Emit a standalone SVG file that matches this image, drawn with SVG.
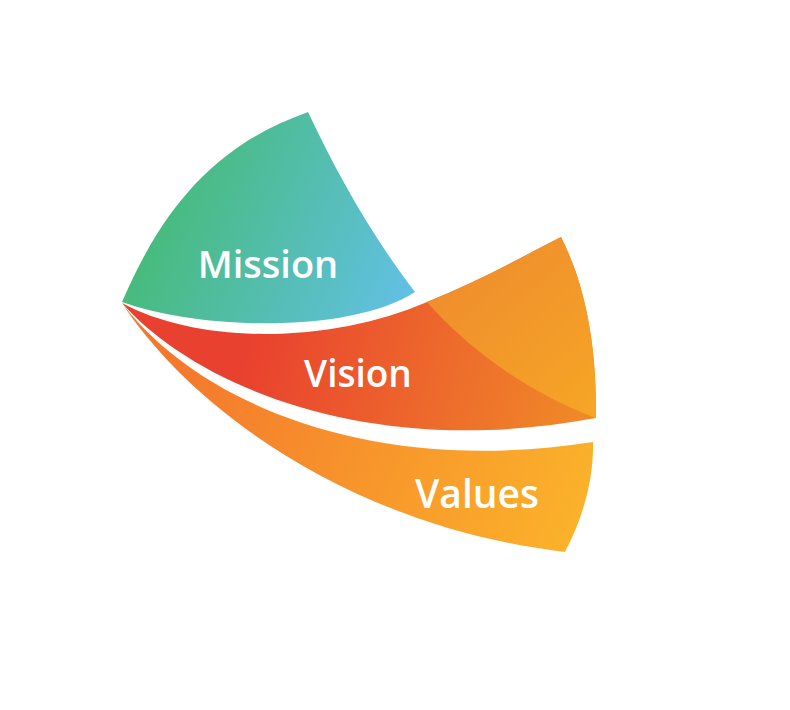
<svg xmlns="http://www.w3.org/2000/svg" width="790" height="710" viewBox="0 0 790 710">
  <defs>
    <linearGradient id="gMission" gradientUnits="userSpaceOnUse" x1="160" y1="190" x2="420" y2="300">
      <stop offset="0" stop-color="#46BB79"/>
      <stop offset="1" stop-color="#63C0E8"/>
    </linearGradient>
    <linearGradient id="gVision" gradientUnits="userSpaceOnUse" x1="250" y1="340" x2="590" y2="425">
      <stop offset="0" stop-color="#E9412F"/>
      <stop offset="1" stop-color="#F08B28"/>
    </linearGradient>
    <linearGradient id="gFold" gradientUnits="userSpaceOnUse" x1="450" y1="260" x2="596" y2="418">
      <stop offset="0" stop-color="#EF8D2E"/>
      <stop offset="1" stop-color="#F6A625"/>
    </linearGradient>
    <linearGradient id="gValues" gradientUnits="userSpaceOnUse" x1="180" y1="370" x2="570" y2="545">
      <stop offset="0" stop-color="#F4792D"/>
      <stop offset="1" stop-color="#FBB22A"/>
    </linearGradient>
  </defs>
  <style>
    .label { font-family: "Open Sans", "Noto Sans", "Liberation Sans", sans-serif; font-weight: 600; fill: #FFFFFF; text-anchor: middle; }
  </style>
  <rect width="790" height="710" fill="#FFFFFF"/>

  <g id="values">
    <path d="M122,303 C192,396 360,478 593,442 C594,480 582,520 565,552 C340,525 185,400 122,303 Z" fill="url(#gValues)"/>
    <text class="label" x="477" y="508" font-size="39">Values</text>
  </g>

  <g id="vision">
    <path d="M122,303 C200,345 330,344 427,302 C475,283 520,258 561,237 C580,275 597,330 596,418 C360,462 190,380 122,303 Z" fill="url(#gVision)"/>
    <path d="M427,302 C460,340 520,390 596,418 C597,330 580,275 561,237 C520,258 475,283 427,302 Z" fill="url(#gFold)"/>
    <text class="label" x="358" y="387" font-size="37">Vision</text>
  </g>

  <g id="mission">
    <path d="M122,302 C170,190 230,140 308,112 C340,180 375,240 415,292 C350,334 200,330 122,302 Z" fill="url(#gMission)"/>
    <text class="label" x="268" y="278" font-size="38">Mission</text>
  </g>
</svg>
